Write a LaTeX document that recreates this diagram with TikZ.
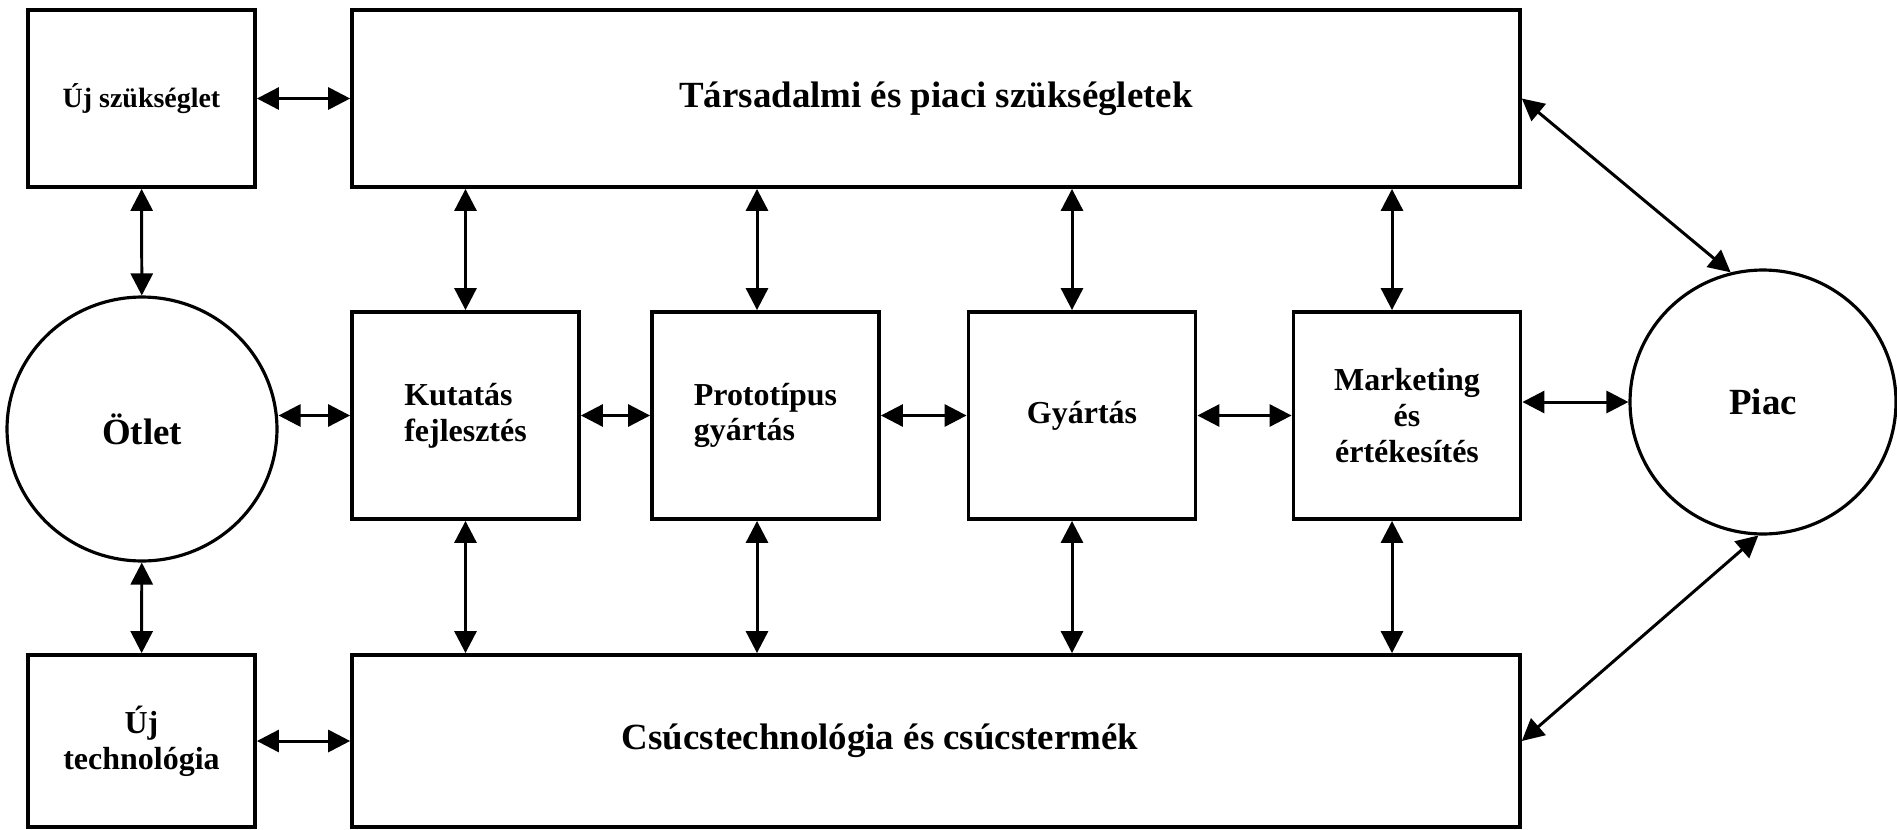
\documentclass[tikz,border=0pt]{standalone}
\usepackage{fontspec}
\setmainfont{Liberation Serif}
\usetikzlibrary{arrows.meta,shapes.geometric}

\begin{document}
\begin{tikzpicture}[x=0.02cm, y=-0.02cm, <->, >={Triangle[length=0.44cm,width=0.44cm]}, line width=1.7pt,
  box/.style={draw, line width=2.2pt, fill=white, inner sep=0pt, minimum width=4.54cm, minimum height=4.14cm,
    font=\bfseries\fontsize{18.2}{20.3}\selectfont},
  wide/.style={box, minimum width=23.36cm, minimum height=3.54cm, font=\bfseries\fontsize{21}{24}\selectfont},
  blob/.style={ellipse, draw, line width=1.8pt, fill=white, inner sep=0pt, font=\bfseries\fontsize{21}{24}\selectfont}]

\useasboundingbox (0,0) rectangle (1897,829);

\node[box, minimum height=3.54cm, font=\bfseries\fontsize{15.9}{18}\selectfont] (ujsz) at (141.5,98.5) {Új szükséglet};
\node[wide] (tars) at (936,98.5) {Társadalmi és piaci szükségletek};
\node[blob, minimum width=5.4cm, minimum height=5.28cm] (otlet) at (142,429) {Ötlet};
\node[box, align=left] (kf) at (465.5,415.5) {Kutatás\\fejlesztés};
\node[box, align=left] (proto) at (765.5,415.5) {Prototípus\\gyártás};
\node[box] (gyart) at (1082,415.5) {Gyártás};
\node[box, align=center] (mark) at (1407,415.5) {Marketing\\és\\értékesítés};
\node[blob, minimum width=5.32cm, minimum height=5.28cm] (piac) at (1763,402) {Piac};
\node[box, minimum height=3.44cm, align=center] (ujtech) at (141.5,741) {Új\\technológia};
\node[wide, minimum height=3.44cm] (csucs) at (936,741) {Csúcstechnológia és csúcstermék\hspace*{2.24cm}};

\path (ujsz) edge (tars)
      (ujsz) edge (otlet)
      (otlet) edge (ujtech)
      (ujtech) edge (csucs)
      (kf.west -| otlet.east) edge (kf.west)
      (kf) edge (proto)
      (proto) edge (gyart)
      (gyart) edge (mark)
      (mark.east |- piac.west) edge (piac.west)
      (tars.east) edge (piac.104)
      (csucs.east) edge (piac.-92);

% up to the needs, down to the technology
\foreach \n/\s in {kf/0, proto/-0.17, gyart/-0.2, mark/-0.3}
  \path ([xshift=\s cm]\n.north) edge ([xshift=\s cm]\n.north |- tars.south)
        ([xshift=\s cm]\n.south) edge ([xshift=\s cm]\n.south |- csucs.north);

\end{tikzpicture}
\end{document}
